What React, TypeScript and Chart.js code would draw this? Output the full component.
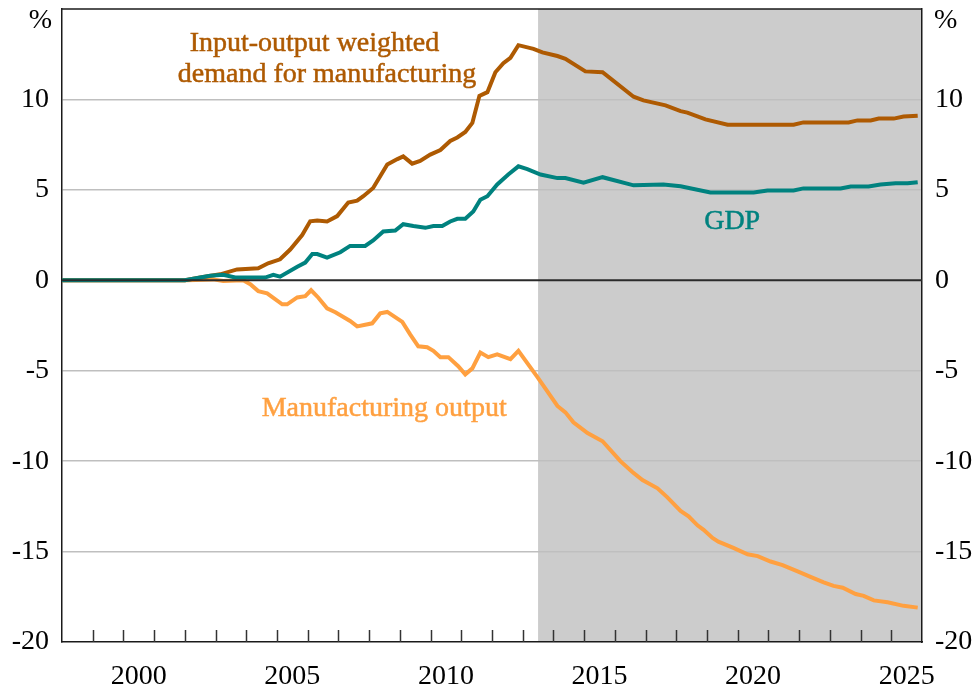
import React, { useEffect, useRef } from 'react';
import { Chart, registerables } from 'chart.js';

Chart.register(...registerables);

const FONT = "'Liberation Serif', 'Times New Roman', serif";

// Input-output weighted demand for manufacturing (%)
const ioYears = [1998.0, 2002.0, 2002.5, 2003.15, 2003.7, 2004.39, 2004.71, 2005.1, 2005.43, 2005.82, 2006.08, 2006.31, 2006.63, 2006.96, 2007.32, 2007.61, 2007.81, 2008.13, 2008.59, 2008.92, 2009.11, 2009.4, 2009.66, 2009.99, 2010.32, 2010.64, 2010.87, 2011.13, 2011.36, 2011.59, 2011.85, 2012.11, 2012.37, 2012.6, 2012.86, 2013.35, 2013.64, 2014.13, 2014.39, 2015.04, 2015.6, 2016.61, 2016.93, 2017.65, 2018.14, 2018.36, 2018.95, 2019.67, 2021.82, 2022.14, 2023.61, 2023.9, 2024.33, 2024.59, 2025.08, 2025.4, 2025.86];
const ioValues = [0, 0, 0.15, 0.33, 0.6, 0.66, 0.94, 1.16, 1.7, 2.5, 3.26, 3.3, 3.25, 3.55, 4.3, 4.4, 4.65, 5.1, 6.4, 6.7, 6.85, 6.45, 6.6, 6.95, 7.2, 7.7, 7.9, 8.2, 8.7, 10.2, 10.4, 11.5, 12.0, 12.3, 13.0, 12.8, 12.6, 12.4, 12.25, 11.55, 11.5, 10.15, 9.95, 9.67, 9.35, 9.27, 8.9, 8.6, 8.6, 8.73, 8.73, 8.84, 8.84, 8.94, 8.94, 9.05, 9.1];

// GDP (%)
const gdpYears = [1998.0, 2002.0, 2002.5, 2002.82, 2003.25, 2003.64, 2004.61, 2004.88, 2005.1, 2005.66, 2005.92, 2006.15, 2006.31, 2006.63, 2007.06, 2007.38, 2007.87, 2008.13, 2008.46, 2008.85, 2009.11, 2009.44, 2009.83, 2010.09, 2010.38, 2010.64, 2010.87, 2011.13, 2011.39, 2011.62, 2011.85, 2012.17, 2012.53, 2012.86, 2013.15, 2013.58, 2014.13, 2014.39, 2014.98, 2015.6, 2016.61, 2017.58, 2018.14, 2019.11, 2020.52, 2020.97, 2021.82, 2022.14, 2023.35, 2023.68, 2024.26, 2024.65, 2025.14, 2025.53, 2025.86];
const gdpValues = [0, 0, 0.15, 0.25, 0.3, 0.15, 0.15, 0.3, 0.2, 0.75, 0.98, 1.45, 1.45, 1.25, 1.55, 1.9, 1.9, 2.2, 2.7, 2.75, 3.1, 3.0, 2.9, 3.0, 3.0, 3.25, 3.4, 3.4, 3.8, 4.45, 4.65, 5.3, 5.85, 6.3, 6.15, 5.85, 5.65, 5.65, 5.4, 5.7, 5.25, 5.3, 5.2, 4.85, 4.85, 4.97, 4.97, 5.08, 5.08, 5.19, 5.19, 5.3, 5.36, 5.36, 5.42];

// Manufacturing output (%)
const mfgYears = [1998.0, 2002.07, 2002.92, 2003.25, 2003.9, 2004.13, 2004.39, 2004.68, 2005.17, 2005.33, 2005.66, 2005.92, 2006.11, 2006.34, 2006.63, 2006.9, 2007.38, 2007.61, 2008.1, 2008.36, 2008.59, 2009.08, 2009.34, 2009.6, 2009.89, 2010.09, 2010.32, 2010.58, 2010.9, 2011.13, 2011.36, 2011.62, 2011.88, 2012.17, 2012.6, 2012.86, 2013.48, 2014.13, 2014.39, 2014.65, 2015.11, 2015.6, 2016.18, 2016.57, 2016.9, 2017.39, 2017.71, 2018.14, 2018.4, 2018.69, 2018.89, 2019.18, 2019.37, 2019.86, 2020.32, 2020.65, 2021.07, 2021.46, 2021.95, 2022.37, 2022.8, 2023.12, 2023.42, 2023.84, 2024.1, 2024.43, 2024.88, 2025.4, 2025.86];
const mfgValues = [0, 0, 0.05, -0.04, 0, -0.22, -0.6, -0.72, -1.33, -1.33, -0.95, -0.88, -0.55, -0.95, -1.55, -1.77, -2.25, -2.55, -2.38, -1.83, -1.75, -2.3, -3.0, -3.65, -3.7, -3.9, -4.25, -4.25, -4.75, -5.2, -4.87, -4.0, -4.25, -4.1, -4.36, -3.9, -5.35, -6.95, -7.3, -7.85, -8.45, -8.9, -10.0, -10.6, -11.05, -11.5, -12.0, -12.75, -13.05, -13.55, -13.8, -14.25, -14.45, -14.8, -15.15, -15.25, -15.55, -15.75, -16.1, -16.4, -16.7, -16.9, -17.0, -17.35, -17.45, -17.7, -17.8, -18.0, -18.1];

const yTicks = [-20, -15, -10, -5, 0, 5, 10, 15];
const yearLabels = [2000, 2005, 2010, 2015, 2020, 2025];
const yearTicks = [1999, 2000, 2001, 2002, 2003, 2004, 2005, 2006, 2007, 2008, 2009, 2010, 2011, 2012, 2013, 2014, 2015, 2016, 2017, 2018, 2019, 2020, 2021, 2022, 2023, 2024, 2025];
const X_MIN = 1998;
const X_MAX = 2026;
const Y_MIN = -20;
const Y_MAX = 15;
const FORECAST_START = 2013.5;

const COLORS = {
  io: '#AE5A02',
  gdp: '#00827F',
  mfg: '#FFA040',
  shade: '#CCCCCC',
  grid: '#BFBFBF',
  axis: '#1a1a1a',
};

const annotations = [
  { text: 'Input-output weighted', x: 2006.22, y: 12.66, color: COLORS.io },
  { text: 'demand for manufacturing', x: 2006.63, y: 10.97, color: COLORS.io },
  { text: 'GDP', x: 2019.82, y: 2.82, color: COLORS.gdp },
  { text: 'Manufacturing output', x: 2008.49, y: -7.5, color: COLORS.mfg },
];

const toPoints = (xs: number[], ys: number[]) => xs.map((x, i) => ({ x, y: ys[i] }));

const decorPlugin = {
  id: 'decor',
  beforeDraw(chart: any) {
    const { ctx, chartArea, scales } = chart;
    const x0 = scales.x.getPixelForValue(FORECAST_START);
    ctx.save();
    ctx.fillStyle = COLORS.shade;
    ctx.fillRect(x0, chartArea.top, chartArea.right - x0, chartArea.bottom - chartArea.top);
    ctx.restore();
  },
  afterDatasetsDraw(chart: any) {
    const { ctx, chartArea, scales } = chart;
    const xs = scales.x;
    const ys = scales.y;
    ctx.save();
    // zero line
    const y0 = ys.getPixelForValue(0);
    ctx.strokeStyle = '#2a2a2a';
    ctx.lineWidth = 2;
    ctx.beginPath();
    ctx.moveTo(chartArea.left, y0);
    ctx.lineTo(chartArea.right, y0);
    ctx.stroke();
    // inward tick marks
    ctx.strokeStyle = '#333';
    ctx.lineWidth = 1.5;
    yearTicks.forEach((yr) => {
      const px = Math.round(xs.getPixelForValue(yr)) + 0.5;
      ctx.beginPath();
      ctx.moveTo(px, chartArea.bottom);
      ctx.lineTo(px, chartArea.bottom - 12);
      ctx.stroke();
    });
    // top border
    ctx.strokeStyle = COLORS.axis;
    ctx.lineWidth = 1.5;
    ctx.beginPath();
    ctx.moveTo(chartArea.left, chartArea.top);
    ctx.lineTo(chartArea.right, chartArea.top);
    ctx.stroke();
    // % unit labels
    ctx.fillStyle = '#000';
    ctx.font = `28px ${FONT}`;
    ctx.textBaseline = 'middle';
    const yPct = ys.getPixelForValue(Y_MAX) + 12;
    ctx.textAlign = 'right';
    ctx.fillText('%', ys.right - 10, yPct);
    ctx.textAlign = 'left';
    ctx.fillText('%', scales.y2.left + 12, yPct);
    // series annotations
    ctx.textAlign = 'center';
    ctx.textBaseline = 'alphabetic';
    annotations.forEach((a) => {
      const px = xs.getPixelForValue(a.x);
      const py = ys.getPixelForValue(a.y);
      ctx.fillStyle = a.color;
      ctx.strokeStyle = a.color;
      ctx.lineWidth = 0.5;
      ctx.fillText(a.text, px, py);
      ctx.strokeText(a.text, px, py);
    });
    ctx.restore();
  },
};

export default function App() {
  const canvasRef = useRef<HTMLCanvasElement | null>(null);

  useEffect(() => {
    if (!canvasRef.current) return;
    const tickFont = { family: FONT, size: 28 };
    const noPad = (s: any) => {
      s.paddingTop = 0;
      s.paddingBottom = 0;
    };
    const chart = new Chart(canvasRef.current, {
      type: 'line',
      data: {
        datasets: [
          {
            label: 'GDP',
            data: toPoints(gdpYears, gdpValues),
            borderColor: COLORS.gdp,
            borderWidth: 4,
            pointRadius: 0,
            tension: 0,
            fill: false,
          },
          {
            label: 'Input-output weighted demand for manufacturing',
            data: toPoints(ioYears, ioValues),
            borderColor: COLORS.io,
            borderWidth: 4,
            pointRadius: 0,
            tension: 0,
            fill: false,
          },
          {
            label: 'Manufacturing output',
            data: toPoints(mfgYears, mfgValues),
            borderColor: COLORS.mfg,
            borderWidth: 4,
            pointRadius: 0,
            tension: 0,
            fill: false,
          },
        ],
      },
      options: {
        responsive: false,
        animation: false,
        layout: { padding: { top: 9, left: 0, right: 0, bottom: 0 } },
        plugins: {
          legend: { display: false },
          tooltip: { enabled: false },
        },
        scales: {
          x: {
            type: 'linear',
            min: X_MIN,
            max: X_MAX,
            position: 'bottom',
            afterBuildTicks: (s: any) => {
              s.ticks = yearLabels.map((y) => ({ value: y + 0.5 }));
            },
            afterFit: (s: any) => {
              s.height = 46;
              s.paddingLeft = 0;
              s.paddingRight = 0;
            },
            ticks: {
              autoSkip: false,
              maxRotation: 0,
              padding: 18,
              color: '#000',
              font: tickFont,
              callback: (v: any) => String(Math.floor(Number(v))),
            },
            grid: { display: false, drawTicks: false },
            border: { display: true, color: COLORS.axis, width: 1.5 },
          },
          y: {
            type: 'linear',
            position: 'left',
            min: Y_MIN,
            max: Y_MAX,
            afterBuildTicks: (s: any) => {
              s.ticks = yTicks.map((v) => ({ value: v }));
            },
            afterFit: (s: any) => {
              s.width = 62;
              noPad(s);
            },
            ticks: {
              padding: 13,
              color: '#000',
              font: tickFont,
              callback: (v: any) => (Number(v) === Y_MAX ? '' : String(v)),
            },
            grid: {
              drawTicks: false,
              color: (ctx: any) => {
                const v = ctx.tick ? ctx.tick.value : null;
                if (v === Y_MIN || v === Y_MAX || v === 0) return 'rgba(0,0,0,0)';
                return COLORS.grid;
              },
              lineWidth: 1.5,
            },
            border: { display: true, color: COLORS.axis, width: 1.5 },
          },
          y2: {
            type: 'linear',
            position: 'right',
            min: Y_MIN,
            max: Y_MAX,
            afterBuildTicks: (s: any) => {
              s.ticks = yTicks.map((v) => ({ value: v }));
            },
            afterFit: (s: any) => {
              s.width = 53;
              noPad(s);
            },
            ticks: {
              padding: 13,
              color: '#000',
              font: tickFont,
              callback: (v: any) => (Number(v) === Y_MAX ? '' : String(v)),
            },
            grid: { display: false, drawTicks: false },
            border: { display: true, color: COLORS.axis, width: 1.5 },
          },
        },
      },
      plugins: [decorPlugin],
    } as any);
    return () => chart.destroy();
  }, []);

  return (
    <div style={{ position: 'absolute', left: 0, top: 0, width: 975, height: 688, background: '#fff' }}>
      <canvas ref={canvasRef} width={975} height={688} style={{ display: 'block' }} />
    </div>
  );
}
